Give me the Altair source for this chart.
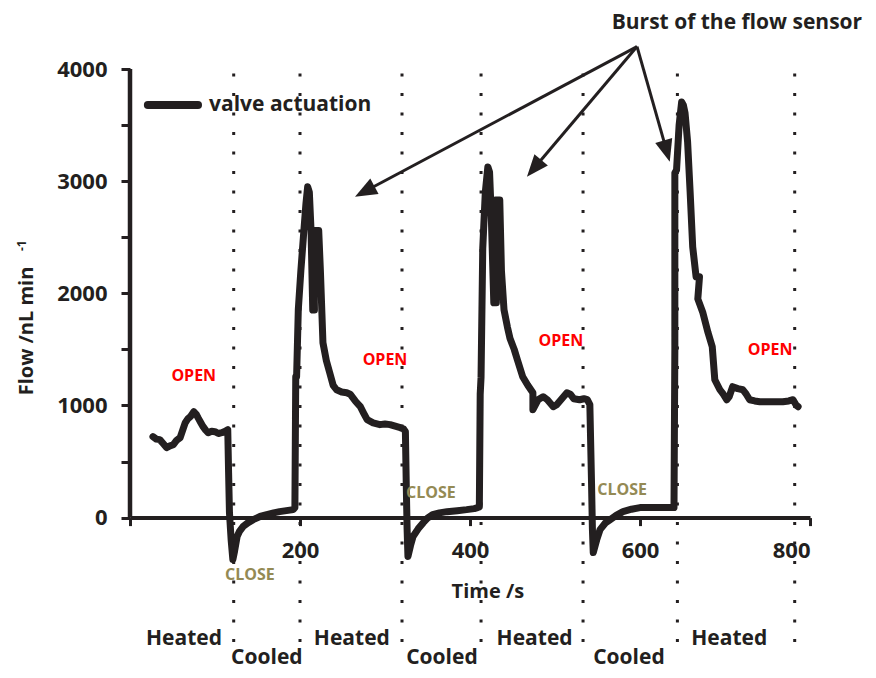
import math
import altair as alt
import pandas as pd

# ---------------- data ----------------
time_s = [27, 31, 35, 39, 43, 47, 51, 55, 59, 62, 65, 68, 71, 75, 78, 80, 83, 86, 89, 92, 96, 100, 104, 108, 112, 115,
          116, 117, 119, 121, 123, 126, 129, 133, 139, 145, 153, 161, 169, 176, 184, 192, 194,
          195, 196, 198, 201, 204, 207, 209, 211, 213, 215, 217, 216, 222, 224, 227, 231, 235, 239, 243, 249, 255, 259,
          265, 271, 275, 279, 286, 294, 300, 306, 312, 318, 322, 324,
          325, 326, 327, 330, 333, 339, 345, 350, 356, 364, 373, 385, 396, 405, 409, 411,
          412, 413, 415, 418, 421, 423, 425, 428, 431, 430, 435, 437, 440, 444, 447, 452, 456, 462, 468, 474, 474, 480,
          486, 491, 498, 502, 508, 514, 518, 522, 529, 534, 538, 541,
          543, 544, 545, 549, 553, 559, 565, 572, 580, 590, 600, 610, 620, 630, 638,
          640, 641, 641, 643, 646, 649, 651, 653, 656, 659, 662, 666, 670, 668, 674, 680, 685, 688, 694, 698, 702, 705,
          709, 715, 721, 725, 729, 735, 741, 755, 768, 775, 780, 784, 786]
flow = [722, 700, 695, 660, 624, 640, 650, 690, 713, 780, 846, 880, 900, 944, 920, 891, 850, 811, 780, 757, 770, 766, 750, 757, 770, 784,
        400, 45, -200, -374, -300, -169, -120, -80, -45, -18, 10, 27, 42, 53, 62, 71, 90,
        1256, 1256, 1853, 2200, 2503, 2800, 2950, 2900, 2560, 1850, 1850, 2560, 2560, 2200, 1559, 1400, 1291, 1180, 1140, 1120, 1113, 1100,
        1040, 989, 930, 873, 845, 829, 835, 829, 815, 802, 790, 766,
        300, -100, -347, -250, -169, -100, -45, -5, 27, 42, 53, 62, 71, 80, 89, 95,
        1100, 1250, 2400, 2900, 3127, 3080, 2700, 1915, 1915, 2833, 2833, 2200, 1853, 1700, 1600, 1500, 1400, 1256, 1180, 1113, 962, 1050,
        1078, 1051, 989, 1007, 1060, 1113, 1100, 1060, 1051, 1060, 1051, 1007,
        300, -100, -312, -200, -107, -50, -18, 20, 53, 75, 89, 89, 89, 89, 89,
        89, 1500, 3073, 3100, 3500, 3706, 3680, 3608, 3350, 2900, 2414, 2147, 2147, 1950, 1826, 1650, 1523, 1229, 1140, 1100, 1051, 1080,
        1167, 1150, 1140, 1100, 1051, 1040, 1033, 1033, 1033, 1040, 1051, 1000, 989]

phase_bounds = [122, 200, 320, 413, 533, 644, 782]

x_ticks = [0, 200, 400, 600, 800]
y_ticks = [0, 500, 1000, 1500, 2000, 2500, 3000, 3500, 4000]

open_labels = {"t": [75, 300, 507, 753], "flow": [1263, 1405, 1575, 1494]}
close_labels = {"t": [141, 354, 579], "flow": [-512, 219, 246]}
heated_labels = {"t": [63.5, 261, 476, 705], "flow": [-1085] * 4}
cooled_labels = {"t": [161, 367, 587], "flow": [-1255] * 3}

arrow_origin = (596.5, 4200)
arrow_tips = [(264.7, 2862), (467, 3040), (635, 3174)]

# ---------------- layout ----------------
W, H = 680, 600
XMIN, XMAX = 0, 800
YMIN, YMAX = -1350, 4000
PPX = W / (XMAX - XMIN)
PPY = H / (YMAX - YMIN)
y0_offset = -(H - (YMAX - 0) * PPY)

FONT = "Open Sans"
INK = "#231f20"

xs = alt.Scale(domain=[XMIN, XMAX], nice=False, zero=False)
ys = alt.Scale(domain=[YMIN, YMAX], nice=False, zero=False)

XAXIS = alt.Axis(
    values=x_ticks, format="d", labelExpr="datum.value == 0 ? '' : datum.label",
    orient="bottom", offset=y0_offset, domainWidth=4, domainColor=INK,
    tickSize=8, tickWidth=3, tickColor=INK, labelFont=FONT, labelFontSize=22,
    labelFontWeight="bold", labelColor=INK, labelPadding=15, grid=False, title=None)
YAXIS = alt.Axis(
    values=y_ticks, format="d", labelExpr="datum.value % 1000 == 0 ? datum.label : ''",
    orient="left", domain=False, tickSize=9, tickWidth=3, tickColor=INK,
    labelFont=FONT, labelFontSize=22, labelFontWeight="bold", labelColor=INK,
    labelPadding=14, grid=False, title=None)


def X(field="t"):
    return alt.X(f"{field}:Q", scale=xs, axis=XAXIS)


def Y(field="flow"):
    return alt.Y(f"{field}:Q", scale=ys, axis=YAXIS)


line_df = pd.DataFrame({"t": time_s, "flow": flow, "i": list(range(len(time_s)))})

main = alt.Chart(line_df).mark_line(color=INK, strokeWidth=7, strokeJoin="round", strokeCap="round").encode(
    x=X(), y=Y(), order="i:Q")

yaxis_line = alt.Chart(pd.DataFrame({"t": [0], "flow": [0], "flow2": [4000]})).mark_rule(
    color=INK, strokeWidth=4.5).encode(x=X(), y=Y(), y2="flow2:Q")

dotted = alt.Chart(pd.DataFrame({"t": phase_bounds, "flow": [3960] * len(phase_bounds),
                                 "flow2": [-1132] * len(phase_bounds)})).mark_rule(
    color=INK, strokeWidth=3, strokeDash=[3, 16.5], strokeCap="butt").encode(
    x=X(), y=Y(), y2="flow2:Q")


def text_layer(d, text, color, size, **kw):
    df = pd.DataFrame(d)
    df["label"] = text
    return alt.Chart(df).mark_text(font=FONT, fontWeight="bold", fontSize=size, color=color,
                                   baseline="middle", **kw).encode(x=X(), y=Y(), text="label:N")


open_t = text_layer(open_labels, "OPEN", "#ff0000", 16)
close_t = text_layer(close_labels, "CLOSE", "#948a54", 16)
heated_t = text_layer(heated_labels, "Heated", INK, 21)
cooled_t = text_layer(cooled_labels, "Cooled", INK, 21)
xtitle = text_layer({"t": [421], "flow": [-665]}, "Time /s", INK, 20)
burst = text_layer({"t": [714], "flow": [4410]}, "Burst of the flow sensor", INK, 21)
ytitle = text_layer({"t": [-121], "flow": [1664]}, "Flow /nL min", INK, 20, angle=270)
ysup = text_layer({"t": [-127], "flow": [2425]}, "-1", INK, 12, angle=270)
legend_t = text_layer({"t": [93], "flow": [3679]}, "valve actuation", INK, 21, align="left")

legend_line = alt.Chart(pd.DataFrame({"t": [21], "t2": [80], "flow": [3679]})).mark_rule(
    color=INK, strokeWidth=8, strokeCap="round").encode(x=X(), x2="t2:Q", y=Y())

# arrows
ox, oy = arrow_origin
shaft_rows, head_rows = [], []
for tx, ty in arrow_tips:
    dxp = (tx - ox) * PPX
    dyp = -(ty - oy) * PPY
    L = math.hypot(dxp, dyp)
    ux, uy = dxp / L, dyp / L
    ang = math.degrees(math.atan2(dxp, -dyp)) % 360
    shaft_rows.append({"t": ox, "flow": oy, "t2": tx - 12 * ux / PPX, "flow2": ty + 12 * uy / PPY})
    head_rows.append({"t": tx, "flow": ty, "ang": ang})

shafts = alt.Chart(pd.DataFrame(shaft_rows)).mark_rule(color=INK, strokeWidth=3).encode(
    x=X(), y=Y(), x2="t2:Q", y2="flow2:Q")
heads = alt.Chart(pd.DataFrame(head_rows)).mark_point(
    shape="M0,0L-0.8,2L0.8,2Z", filled=True, color=INK, opacity=1, size=484, strokeWidth=0).encode(
    x=X(), y=Y(), angle=alt.Angle("ang:Q", scale=None))

chart = alt.layer(
    main, dotted, yaxis_line, legend_line, shafts, heads,
    open_t, close_t, heated_t, cooled_t, xtitle, burst, ytitle, ysup, legend_t,
).properties(
    width=W, height=H,
    background="white",
    autosize=alt.AutoSizeParams(type="none"),
    padding={"left": 122, "top": 61, "right": 58, "bottom": 0},
).configure_view(stroke=None)

chart.save("out.html", embed_options={"renderer": "svg", "actions": False})
